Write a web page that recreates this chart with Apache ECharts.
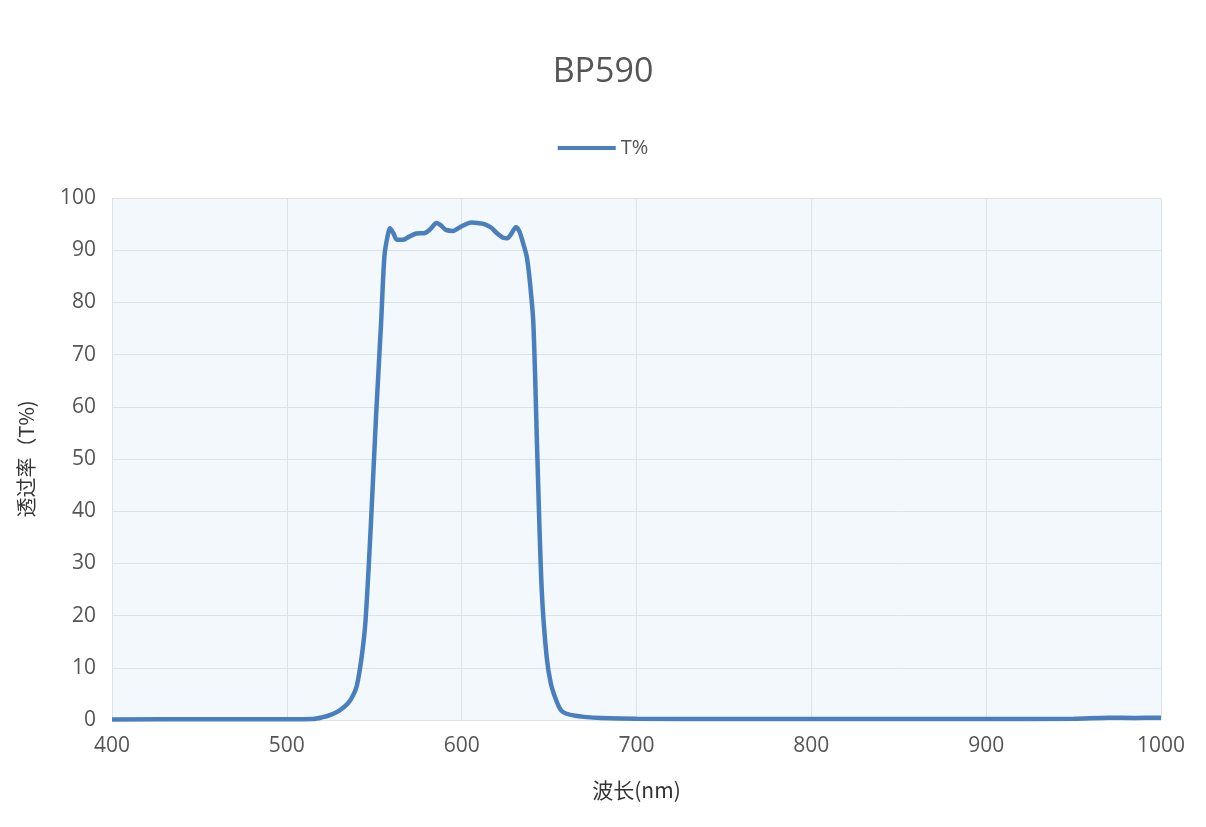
<!DOCTYPE html>
<html>
<head>
<meta charset="utf-8">
<script src="https://cdn.jsdelivr.net/npm/echarts@6/dist/echarts.min.js"></script>
<style>html,body{margin:0;padding:0;background:#fff}#chart{width:1206px;height:827px}</style>
</head>
<body>
<div id="chart"></div>
<script>
// 波长 (nm)
var wavelengths = [400, 450, 500, 515, 520, 525, 530, 535, 538, 540, 542.8, 545, 548, 551, 553.9, 555.8, 557.5, 559, 561, 563, 566.5, 570, 574, 579, 582, 585.7, 588, 591, 595, 600, 605.7, 609, 613, 617, 620, 623.7, 626, 628.5, 631, 633, 635, 637.2, 639, 641, 643.3, 645.8, 648.6, 651, 654.4, 657, 660, 665, 670, 680, 700, 750, 800, 850, 900, 950, 970, 985, 1000];
// 透过率 T%
var transmittance = [0.1, 0.15, 0.15, 0.2, 0.5, 1.0, 1.8, 3.2, 4.8, 6.5, 12.1, 19, 37, 58, 76, 88.8, 92.5, 94.2, 93.2, 92, 92, 92.6, 93.2, 93.3, 94, 95.2, 94.8, 93.9, 93.7, 94.6, 95.3, 95.2, 95, 94.3, 93.3, 92.4, 92.3, 93.2, 94.4, 93.6, 91.5, 88.8, 84, 76, 50.4, 24.9, 12.1, 7, 3.5, 1.8, 1.2, 0.8, 0.6, 0.4, 0.25, 0.2, 0.2, 0.2, 0.2, 0.25, 0.45, 0.4, 0.45];

var chart = echarts.init(document.getElementById('chart'));

var seriesData = wavelengths.map(function (w, i) {
    return [w, transmittance[i]];
});

var option = {
    backgroundColor: '#fff',
    textStyle: { fontFamily: 'Open Sans' },
    title: {
        text: 'BP590',
        left: 'center',
        top: 50,
        textStyle: { fontSize: 34, fontWeight: 'normal', color: '#555', fontFamily: 'Open Sans' }
    },
    legend: {
        top: 133,
        left: 'center',
        itemWidth: 58,
        itemHeight: 4,
        itemGap: 12,
        textStyle: { fontSize: 20, color: '#555', fontFamily: 'Open Sans' },
        data: [{ name: 'T%', icon: 'rect' }]
    },
    grid: {
        left: 112,
        right: 45,
        top: 198,
        bottom: 107,
        show: true,
        backgroundColor: '#f3f8fd',
        borderWidth: 0
    },
    xAxis: {
        type: 'value',
        min: 400,
        max: 1000,
        interval: 100,
        name: '波长(nm)',
        nameLocation: 'middle',
        nameGap: 60,
        nameTextStyle: { fontSize: 21, color: '#333', fontFamily: 'Noto Sans CJK SC' },
        axisLine: { show: false },
        axisTick: { show: false },
        axisLabel: { fontSize: 21, color: '#555', margin: 16, formatter: function (v) { return String(v); } },
        splitLine: { show: true, lineStyle: { color: '#dde2e6' } }
    },
    yAxis: {
        type: 'value',
        min: 0,
        max: 100,
        interval: 10,
        name: '透过率（T%)',
        nameLocation: 'middle',
        nameGap: 76,
        nameTextStyle: { fontSize: 20, color: '#333', fontFamily: 'Noto Sans CJK SC' },
        axisLine: { show: false },
        axisTick: { show: false },
        axisLabel: { fontSize: 21, color: '#555', margin: 16 },
        splitLine: { show: true, lineStyle: { color: '#dde2e6' } }
    },
    series: [
        {
            name: 'T%',
            type: 'line',
            smooth: 0.3,
            symbol: 'none',
            data: seriesData,
            lineStyle: { width: 4.5, color: '#4a7fbd' },
            itemStyle: { color: '#4a7fbd' }
        }
    ]
};

chart.setOption(option);
</script>
</body>
</html>
